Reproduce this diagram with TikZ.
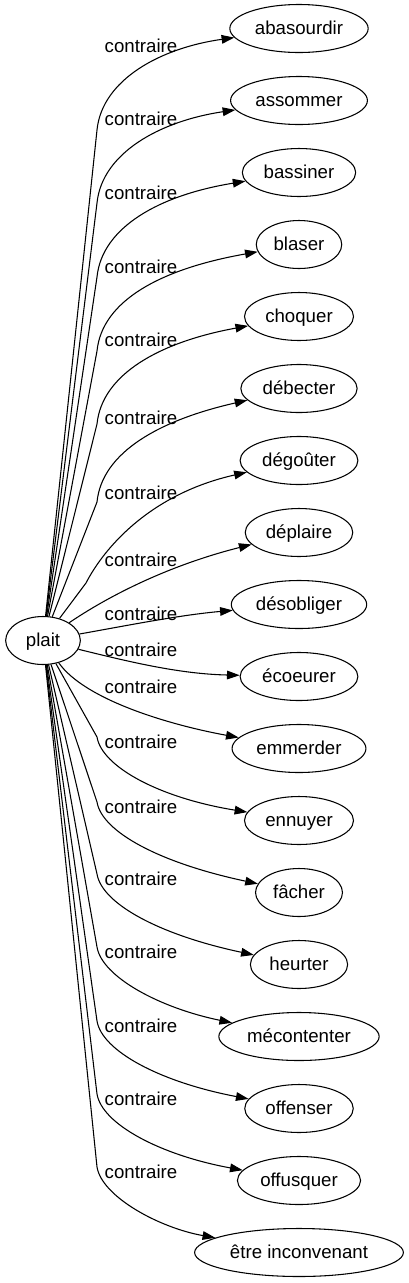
\documentclass[tikz,border=0pt]{standalone}
\usepackage{fontspec}
\setmainfont{Liberation Sans}
\usetikzlibrary{arrows.meta,shapes.geometric}

\begin{document}
\begin{tikzpicture}[
  x=0.75pt, y=-0.75pt,
  font=\fontsize{14pt}{16pt}\selectfont,
  word/.style={draw, ellipse, line width=0.8pt, minimum width=54pt,
               minimum height=36pt, inner xsep=3.6pt, inner ysep=2pt,
               text height=11pt, text depth=2pt},
  lbl/.style={inner sep=0pt, text height=11pt, text depth=2pt},
  link/.style={-{Triangle[length=9.5pt,width=6.5pt]}, line width=0.8pt}
]
\useasboundingbox (0,0) rectangle (409,1283);
% source
\node[word, minimum width=56pt] (plait) at (43,640.5) {plait};
% targets
\node[word] (abasourdir) at (299,28.5) {abasourdir};
\node[word] (assommer) at (299,100.5) {assommer};
\node[word] (bassiner) at (299,172.5) {bassiner};
\node[word] (blaser) at (299,244.5) {blaser};
\node[word] (choquer) at (299,316.5) {choquer};
\node[word] (debecter) at (299,388.5) {débecter};
\node[word] (degouter) at (299,460.5) {dégoûter};
\node[word] (deplaire) at (299,532.5) {déplaire};
\node[word] (desobliger) at (299,604.5) {désobliger};
\node[word] (ecoeurer) at (299,676.5) {écoeurer};
\node[word] (emmerder) at (299,748.5) {emmerder};
\node[word] (ennuyer) at (299,820.5) {ennuyer};
\node[word] (facher) at (299,892.5) {fâcher};
\node[word] (heurter) at (299,964.5) {heurter};
\node[word] (mecontenter) at (299,1036.5) {mécontenter};
\node[word] (offenser) at (299,1108.5) {offenser};
\node[word] (offusquer) at (299,1180.5) {offusquer};
\node[word] (etre) at (299,1252.5) {être inconvenant};
% edge labels
\node[lbl] (lab1) at (141,46) {contraire};
\node[lbl] (lab2) at (141,119) {contraire};
\node[lbl] (lab3) at (141,193) {contraire};
\node[lbl] (lab4) at (141,267) {contraire};
\node[lbl] (lab5) at (141,340) {contraire};
\node[lbl] (lab6) at (141,418) {contraire};
\node[lbl] (lab7) at (141,493) {contraire};
\node[lbl] (lab8) at (141,560) {contraire};
\node[lbl] (lab9) at (141,614) {contraire};
\node[lbl] (lab10) at (141,650) {contraire};
\node[lbl] (lab11) at (141,687) {contraire};
\node[lbl] (lab12) at (141,742) {contraire};
\node[lbl] (lab13) at (141,807) {contraire};
\node[lbl] (lab14) at (141,879) {contraire};
\node[lbl] (lab15) at (141,952) {contraire};
\node[lbl] (lab16) at (141,1026) {contraire};
\node[lbl] (lab17) at (141,1099) {contraire};
\node[lbl] (lab18) at (141,1172) {contraire};
% edges going up
\draw[link] (plait) -- (97,130) .. controls (102,80) and (160,48) .. (abasourdir);
\draw[link] (plait) -- (97,203) .. controls (102,153) and (160,121) .. (assommer);
\draw[link] (plait) -- (97,277) .. controls (102,227) and (160,195) .. (bassiner);
\draw[link] (plait) -- (97,351) .. controls (102,301) and (160,269) .. (blaser);
\draw[link] (plait) -- (97,424) .. controls (102,374) and (160,342) .. (choquer);
\draw[link] (plait) -- (97,502) .. controls (102,452) and (160,420) .. (debecter);
\draw[link] (plait) -- (86,583) .. controls (104,548) and (150,494) .. (degouter);
% edges near the middle
\draw[link] (plait) .. controls (110,595) and (170,565) .. (deplaire);
\draw[link] (plait) .. controls (130,625) and (180,615) .. (desobliger);
\draw[link] (plait) .. controls (130,662) and (180,674) .. (ecoeurer);
\draw[link] (plait) .. controls (85,700) and (170,725) .. (emmerder);
% edges going down
\draw[link] (plait) -- (97,737) .. controls (102,767) and (160,798) .. (ennuyer);
\draw[link] (plait) -- (97,802) .. controls (102,832) and (160,863) .. (facher);
\draw[link] (plait) -- (97,874) .. controls (102,904) and (160,935) .. (heurter);
\draw[link] (plait) -- (97,947) .. controls (102,977) and (160,1008) .. (mecontenter);
\draw[link] (plait) -- (97,1021) .. controls (102,1051) and (160,1082) .. (offenser);
\draw[link] (plait) -- (97,1094) .. controls (102,1124) and (160,1155) .. (offusquer);
\draw[link] (plait) -- (97,1167) .. controls (102,1197) and (160,1228) .. (etre);
\end{tikzpicture}
\end{document}
